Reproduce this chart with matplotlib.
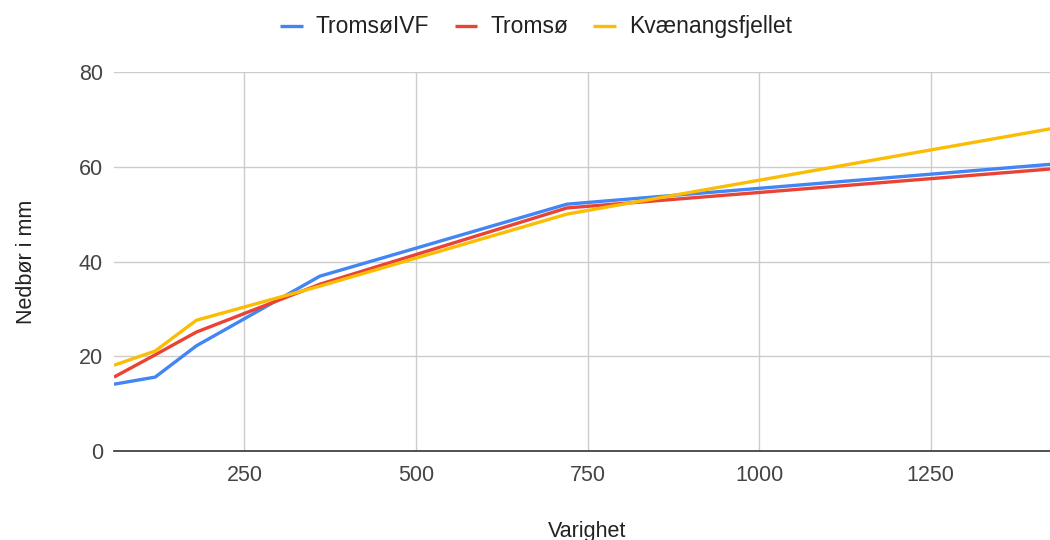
import matplotlib.pyplot as plt

plt.rcParams['font.family'] = ['Liberation Sans', 'DejaVu Sans']

# varighet i minutter
varighet = [60, 120, 180, 360, 720, 1440]
tromso_ivf = [14.1, 15.6, 22.2, 36.9, 52.1, 60.7]
tromso = [15.6, 20.3, 25.1, 35.2, 51.3, 59.7]
kvaenangsfjellet = [18.1, 21.1, 27.6, 34.8, 50.0, 68.4]

series = [
    ("TromsøIVF", tromso_ivf, "#4285F4"),
    ("Tromsø", tromso, "#EA4335"),
    ("Kvænangsfjellet", kvaenangsfjellet, "#FBBC04"),
]

fig = plt.figure(figsize=(10.5, 5.4), dpi=100)
ax = fig.add_axes([114 / 1050, 89 / 540, (1061 - 114) / 1050, (451 - 72) / 540])

for name, vals, color in series:
    ax.plot(varighet, vals, color=color, linewidth=2.4, label=name, solid_capstyle="butt")

ax.set_xlim(60, 1440)
ax.set_ylim(0, 80)
ax.set_xticks([250, 500, 750, 1000, 1250])
ax.set_yticks([0, 20, 40, 60, 80])
ax.grid(True, color="#cccccc", linewidth=1)
ax.set_axisbelow(True)
for side in ["top", "right", "left"]:
    ax.spines[side].set_visible(False)
ax.spines["bottom"].set_color("#333333")
ax.spines["bottom"].set_linewidth(1.2)
ax.tick_params(length=0, labelsize=15.5, colors="#444444", pad=8)
ax.tick_params(axis="x", pad=10)

ax.set_xlabel("Varighet", fontsize=15.5, color="#222222", labelpad=25)
ax.set_ylabel("Nedbør i mm", fontsize=15.5, color="#222222", labelpad=30)

fig.legend(loc="upper center", bbox_to_anchor=(536 / 1050, 1.0), ncol=3, frameon=False,
           fontsize=16.5, handlelength=1.0, handleheight=0.3, handletextpad=0.55,
           columnspacing=1.1, borderaxespad=0.25, labelcolor="#222222")

fig.savefig("out.png", dpi=100)
